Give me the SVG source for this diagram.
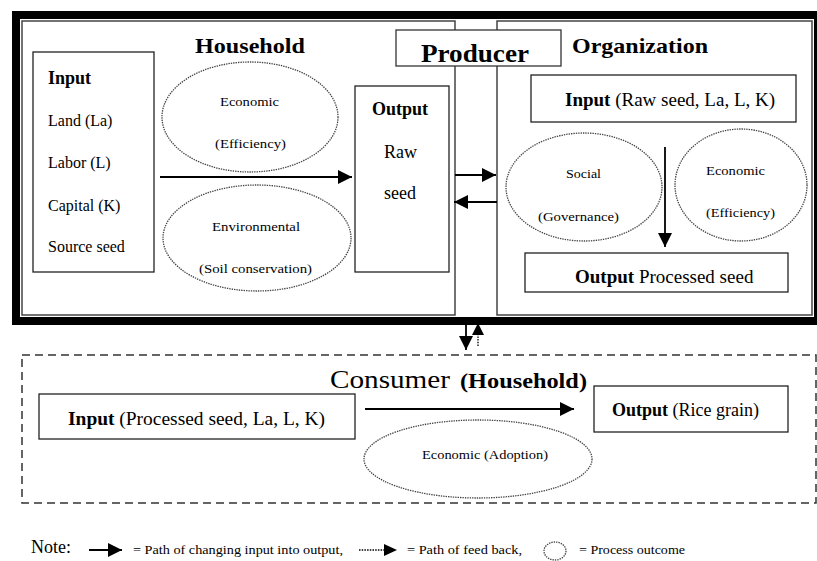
<svg xmlns="http://www.w3.org/2000/svg" width="817" height="561" viewBox="0 0 817 561" font-family="'Liberation Serif', 'Times New Roman', serif">
<defs>
<style>
text{font-family:"Liberation Serif","Times New Roman",serif;fill:#000;}
.b{font-weight:bold;}
.box{fill:#fff;stroke:#222;stroke-width:1.3;}
.panel{fill:#fff;stroke:#444;stroke-width:1.5;}
.oval{fill:none;stroke:#444;stroke-width:1.3;stroke-dasharray:1.4 1;}
.ln{stroke:#000;stroke-width:1.8;fill:none;}
.dot{stroke:#000;stroke-width:1.3;fill:none;stroke-dasharray:1.5 1.2;}
.s13{font-size:13px;}
.s16{font-size:16px;}
.s18{font-size:18px;}
.s19{font-size:19px;}
</style>
<marker id="ah" viewBox="0 0 10 10" refX="10" refY="5" markerWidth="14" markerHeight="14" markerUnits="userSpaceOnUse" orient="auto">
<path d="M0,0 L10,5 L0,10 Z" fill="#000"/>
</marker>
</defs>

<g id="producer">
<rect x="16" y="15" width="802" height="306" fill="#fff" stroke="#000" stroke-width="8"/>
</g>

<g id="household">
<rect class="panel" x="22" y="21" width="433" height="294"/>
<text class="b" x="195" y="53" font-size="22" textLength="110" lengthAdjust="spacingAndGlyphs">Household</text>
</g>

<g id="organization">
<rect class="panel" x="497" y="21" width="315" height="294"/>
<text class="b" x="572" y="53" font-size="22" textLength="136" lengthAdjust="spacingAndGlyphs">Organization</text>
</g>

<g id="producer-label">
<rect x="396" y="30" width="165" height="36" fill="#fff" stroke="#333" stroke-width="1.3"/>
<text class="b" x="421" y="62" font-size="26" textLength="108" lengthAdjust="spacingAndGlyphs">Producer</text>
</g>

<g id="hh-input">
<rect class="box" x="33" y="52" width="121" height="220"/>
<text class="b s18" x="48" y="84">Input</text>
<text class="s16" x="48" y="126">Land (La)</text>
<text class="s16" x="48" y="168">Labor (L)</text>
<text class="s16" x="48" y="211">Capital (K)</text>
<text class="s16" x="48" y="252">Source seed</text>
</g>

<g id="hh-economic">
<ellipse class="oval" cx="250" cy="117" rx="88" ry="55"/>
<text class="s13" x="220" y="106" textLength="59" lengthAdjust="spacingAndGlyphs">Economic</text>
<text class="s13" x="215" y="148" textLength="71" lengthAdjust="spacingAndGlyphs">(Efficiency)</text>
</g>

<g id="hh-environmental">
<ellipse class="oval" cx="257" cy="238" rx="94" ry="53"/>
<text class="s13" x="212" y="231" textLength="88" lengthAdjust="spacingAndGlyphs">Environmental</text>
<text class="s13" x="199" y="273" textLength="113" lengthAdjust="spacingAndGlyphs">(Soil conservation)</text>
</g>

<g id="hh-output">
<rect class="box" x="355" y="86" width="94" height="186"/>
<text class="b s18" x="372" y="115">Output</text>
<text class="s18" x="384" y="158">Raw</text>
<text class="s18" x="384" y="199">seed</text>
</g>

<g id="org-input">
<rect class="box" x="531" y="75" width="265" height="47"/>
<text class="s19" x="565" y="106"><tspan class="b">Input</tspan> (Raw seed, La, L, K)</text>
</g>

<g id="org-social">
<ellipse class="oval" cx="584" cy="187" rx="78" ry="54"/>
<text class="s13" x="566" y="178" textLength="35" lengthAdjust="spacingAndGlyphs">Social</text>
<text class="s13" x="538" y="221" textLength="81" lengthAdjust="spacingAndGlyphs">(Governance)</text>
</g>

<g id="org-economic">
<ellipse class="oval" cx="741" cy="185" rx="66" ry="56"/>
<text class="s13" x="706" y="175" textLength="59" lengthAdjust="spacingAndGlyphs">Economic</text>
<text class="s13" x="706" y="217" textLength="69" lengthAdjust="spacingAndGlyphs">(Efficiency)</text>
</g>

<g id="org-output">
<rect class="box" x="525" y="253" width="263" height="39"/>
<text class="s19" x="575" y="283"><tspan class="b">Output</tspan> Processed seed</text>
</g>

<g id="consumer">
<rect x="22" y="355" width="794" height="148" fill="none" stroke="#333" stroke-width="1.5" stroke-dasharray="8 5"/>
<text x="330" y="388" font-size="26" textLength="120" lengthAdjust="spacingAndGlyphs">Consumer</text>
<text class="b" x="460" y="388" font-size="20" textLength="127" lengthAdjust="spacingAndGlyphs">(Household)</text>
</g>

<g id="con-input">
<rect class="box" x="39" y="394" width="316" height="45"/>
<text class="s18" x="68" y="425" textLength="257" lengthAdjust="spacingAndGlyphs"><tspan class="b">Input</tspan> (Processed seed, La, L, K)</text>
</g>

<g id="con-output">
<rect class="box" x="594" y="386" width="194" height="46"/>
<text class="s18" x="612" y="416"><tspan class="b">Output</tspan> (Rice grain)</text>
</g>

<g id="con-adoption">
<ellipse class="oval" cx="478" cy="459" rx="114" ry="39"/>
<text class="s13" x="422" y="459" textLength="126" lengthAdjust="spacingAndGlyphs">Economic (Adoption)</text>
</g>

<g id="connectors">
<line class="ln" x1="160" y1="177" x2="352" y2="177" marker-end="url(#ah)"/>
<line class="ln" x1="455" y1="175" x2="496" y2="175" marker-end="url(#ah)"/>
<line class="ln" x1="497" y1="202" x2="454" y2="202" marker-end="url(#ah)"/>
<line class="ln" x1="665" y1="147" x2="665" y2="247" marker-end="url(#ah)"/>
<line class="ln" x1="466" y1="322" x2="466" y2="350" marker-end="url(#ah)"/>
<line class="dot" x1="478" y1="346" x2="478" y2="333"/>
<path d="M478,323 L484,335 L472,335 Z" fill="#000"/>
<line class="ln" x1="365" y1="409" x2="574" y2="409" marker-end="url(#ah)"/>
</g>

<g id="legend">
<text x="31" y="553" font-size="18">Note:</text>
<line class="ln" x1="89" y1="550" x2="122" y2="550" marker-end="url(#ah)"/>
<text class="s13" x="133" y="554" textLength="210" lengthAdjust="spacingAndGlyphs">= Path of changing input into output,</text>
<line class="dot" x1="359" y1="550" x2="386" y2="550"/>
<path d="M384,544 L397,550 L384,556 Z" fill="#000"/>
<text class="s13" x="407" y="554" textLength="115" lengthAdjust="spacingAndGlyphs">= Path of feed back,</text>
<ellipse class="oval" cx="555" cy="551" rx="11" ry="9"/>
<text class="s13" x="579" y="554" textLength="106" lengthAdjust="spacingAndGlyphs">= Process outcome</text>
</g>
</svg>
